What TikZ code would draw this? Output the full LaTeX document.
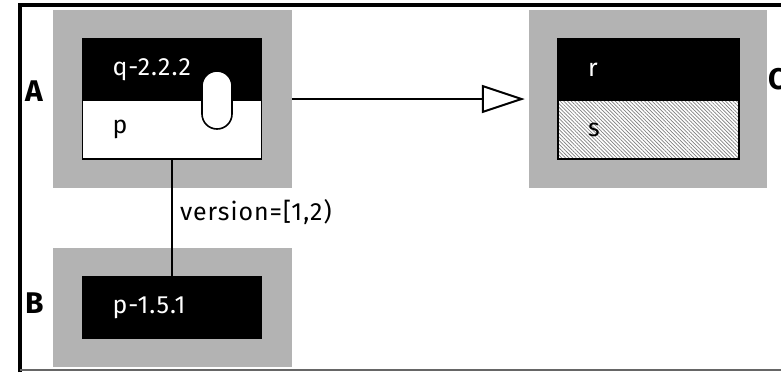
\documentclass[tikz,border=0pt]{standalone}
\usepackage{fontspec}
\setmainfont{Fira Sans}
\newfontfamily\spacedfont[LetterSpace=4]{Fira Sans}
\usepackage{tikz}
\usepackage{xcolor}
\usetikzlibrary{positioning,arrows.meta,patterns.meta}
\definecolor{bundlecolorc}{HTML}{B3B3B3}
\colorlet{bundlecolor}{bundlecolorc}
\colorlet{hatchcolor}{black!50}
\colorlet{textc}{white}
\tikzstyle{bundle} =[
    fill=bundlecolor,
    inner sep=0pt,
    minimum width=239bp
    ]
\tikzstyle{part} = [
    draw=black,
    line width=1.6bp,
    rectangle,
    outer sep=0pt,
    inner xsep=30bp,
    inner ysep=0pt,
    text width=119bp,
    align=left,
    minimum height=61bp,
    font=\spacedfont\fontsize{25}{28}\selectfont
    ]
\tikzstyle{exported} = [part, fill=black, text=textc]
\tikzstyle{private} = [part, fill=white, minimum height=59bp]
\tikzstyle{hidden} = [
    part,
    minimum height=59bp,
    preaction={fill=white},
    pattern={Lines[angle=-45,distance=2.6bp,line width=0.7bp]},
    pattern color=hatchcolor
    ]
\tikzstyle{pill} = [
    draw=black,
    line width=1.6bp,
    fill=white,
    rounded corners=15bp,
    minimum width=30bp,
    minimum height=58bp,
    inner sep=0pt
    ]
\tikzstyle{bundlename} = [font=\bfseries\fontsize{30}{32}\selectfont, inner sep=0pt]
\tikzstyle{wire} = [line width=2bp]
\begin{document}
\begin{tikzpicture}[x=1bp, y=-1bp]
\useasboundingbox (0,0) rectangle (781,372);
% frame
\draw[line width=4bp] (20,372) -- (20,4.5) -- (781,4.5);
\draw[black!60, line width=1.5bp] (20,370) -- (781,370);

\node[bundle, minimum height=178bp] (bundleA) at (172.5,99) {};
\node[bundle, minimum width=238bp, minimum height=178bp] (bundleC) at (648,99) {};
\node[bundle, minimum height=119bp] (bundleB) at (172.5,307.5) {};

\node[exported] (qhead) at (172,69.5) {q-2.2.2};
\node[private, below=0pt of qhead] (qimport) {p};
\node[pill] (qhandle) at (217,100) {};

\node[exported, text width=121bp] (rhead) at (648.5,69.5) {r};
\node[hidden, text width=121bp, below=0pt of rhead] (rhidden) {s};

\node[exported] (phead) at (172,307.5) {p-1.5.1};

\node[bundlename, anchor=west] (nameA) at (25,91) {A};
\node[bundlename, anchor=west] (nameB) at (25,303) {B};
\node[bundlename, anchor=west] (nameC) at (768,79) {C};

\draw[wire, -{Triangle[open, length=43bp, width=28bp]}, shorten >=4bp] (bundleA.east) -- (bundleC.west);
\draw[wire] (qimport.south) -- node[right, pos=0.45, inner xsep=7bp, font=\spacedfont\fontsize{25}{28}\selectfont] (range) {version=[1,2)} (phead.north);
\end{tikzpicture}
\end{document}
